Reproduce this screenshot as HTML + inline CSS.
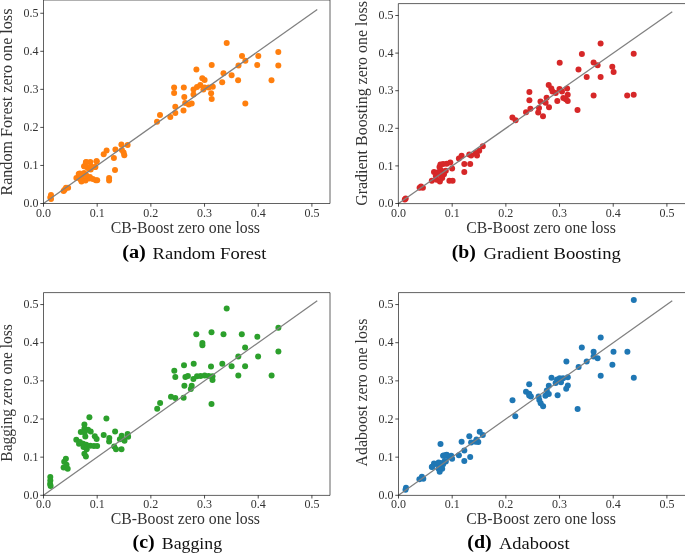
<!DOCTYPE html><html><head><meta charset="utf-8"><style>html,body{margin:0;padding:0;background:#fff;overflow:hidden;}svg{display:block;will-change:transform;}text{font-family:"Liberation Serif",serif;}</style></head><body>
<svg width="685" height="553" viewBox="0 0 685 553">
<rect width="685" height="553" fill="#fff"/>
<circle cx="51.0" cy="195.0" r="3" fill="#ff7f0e"/>
<circle cx="50.3" cy="197.5" r="3" fill="#ff7f0e"/>
<circle cx="51.0" cy="199.0" r="3" fill="#ff7f0e"/>
<circle cx="63.6" cy="191.1" r="3" fill="#ff7f0e"/>
<circle cx="64.6" cy="189.8" r="3" fill="#ff7f0e"/>
<circle cx="66.0" cy="187.7" r="3" fill="#ff7f0e"/>
<circle cx="68.1" cy="187.7" r="3" fill="#ff7f0e"/>
<circle cx="85.9" cy="162.3" r="3" fill="#ff7f0e"/>
<circle cx="90.3" cy="161.9" r="3" fill="#ff7f0e"/>
<circle cx="96.5" cy="161.2" r="3" fill="#ff7f0e"/>
<circle cx="84.1" cy="166.3" r="3" fill="#ff7f0e"/>
<circle cx="87.4" cy="167.4" r="3" fill="#ff7f0e"/>
<circle cx="90.7" cy="169.6" r="3" fill="#ff7f0e"/>
<circle cx="95" cy="167" r="3" fill="#ff7f0e"/>
<circle cx="79.7" cy="173.6" r="3" fill="#ff7f0e"/>
<circle cx="84.1" cy="172.9" r="3" fill="#ff7f0e"/>
<circle cx="76.4" cy="178" r="3" fill="#ff7f0e"/>
<circle cx="78.7" cy="173.9" r="3" fill="#ff7f0e"/>
<circle cx="81.9" cy="180.2" r="3" fill="#ff7f0e"/>
<circle cx="85.5" cy="180.5" r="3" fill="#ff7f0e"/>
<circle cx="89.2" cy="178.4" r="3" fill="#ff7f0e"/>
<circle cx="95.8" cy="180.2" r="3" fill="#ff7f0e"/>
<circle cx="97.2" cy="180.2" r="3" fill="#ff7f0e"/>
<circle cx="80.8" cy="179.8" r="3" fill="#ff7f0e"/>
<circle cx="81.5" cy="181.5" r="3" fill="#ff7f0e"/>
<circle cx="86.3" cy="162.1" r="3" fill="#ff7f0e"/>
<circle cx="84.5" cy="166.2" r="3" fill="#ff7f0e"/>
<circle cx="89" cy="168.9" r="3" fill="#ff7f0e"/>
<circle cx="89.9" cy="177" r="3" fill="#ff7f0e"/>
<circle cx="103.7" cy="154.3" r="3" fill="#ff7f0e"/>
<circle cx="106.6" cy="150.4" r="3" fill="#ff7f0e"/>
<circle cx="109.1" cy="177.9" r="3" fill="#ff7f0e"/>
<circle cx="109.1" cy="180.6" r="3" fill="#ff7f0e"/>
<circle cx="115.0" cy="170.0" r="3" fill="#ff7f0e"/>
<circle cx="113.9" cy="158.1" r="3" fill="#ff7f0e"/>
<circle cx="115.4" cy="149.4" r="3" fill="#ff7f0e"/>
<circle cx="121.4" cy="144.5" r="3" fill="#ff7f0e"/>
<circle cx="127.6" cy="145.0" r="3" fill="#ff7f0e"/>
<circle cx="121.9" cy="149.9" r="3" fill="#ff7f0e"/>
<circle cx="123.6" cy="152.6" r="3" fill="#ff7f0e"/>
<circle cx="124.3" cy="155.3" r="3" fill="#ff7f0e"/>
<circle cx="96.7" cy="161.2" r="3" fill="#ff7f0e"/>
<circle cx="95.4" cy="167.1" r="3" fill="#ff7f0e"/>
<circle cx="157.0" cy="121.7" r="3" fill="#ff7f0e"/>
<circle cx="160.0" cy="115.0" r="3" fill="#ff7f0e"/>
<circle cx="170.3" cy="117.0" r="3" fill="#ff7f0e"/>
<circle cx="175.3" cy="106.7" r="3" fill="#ff7f0e"/>
<circle cx="175.3" cy="113.1" r="3" fill="#ff7f0e"/>
<circle cx="183.5" cy="110.5" r="3" fill="#ff7f0e"/>
<circle cx="185.2" cy="102.9" r="3" fill="#ff7f0e"/>
<circle cx="188.8" cy="104.4" r="3" fill="#ff7f0e"/>
<circle cx="191.7" cy="103.5" r="3" fill="#ff7f0e"/>
<circle cx="174.1" cy="87.6" r="3" fill="#ff7f0e"/>
<circle cx="174.1" cy="93.1" r="3" fill="#ff7f0e"/>
<circle cx="183.8" cy="87.6" r="3" fill="#ff7f0e"/>
<circle cx="184.3" cy="97.0" r="3" fill="#ff7f0e"/>
<circle cx="193.5" cy="89.4" r="3" fill="#ff7f0e"/>
<circle cx="197.0" cy="87.0" r="3" fill="#ff7f0e"/>
<circle cx="200.3" cy="84.9" r="3" fill="#ff7f0e"/>
<circle cx="193.5" cy="94.6" r="3" fill="#ff7f0e"/>
<circle cx="203.4" cy="89.4" r="3" fill="#ff7f0e"/>
<circle cx="204.6" cy="87.6" r="3" fill="#ff7f0e"/>
<circle cx="208.7" cy="87.6" r="3" fill="#ff7f0e"/>
<circle cx="212.8" cy="86.8" r="3" fill="#ff7f0e"/>
<circle cx="211.1" cy="93.2" r="3" fill="#ff7f0e"/>
<circle cx="211.7" cy="99.1" r="3" fill="#ff7f0e"/>
<circle cx="202.3" cy="78.2" r="3" fill="#ff7f0e"/>
<circle cx="204.6" cy="80.0" r="3" fill="#ff7f0e"/>
<circle cx="196.4" cy="69.4" r="3" fill="#ff7f0e"/>
<circle cx="211.7" cy="64.9" r="3" fill="#ff7f0e"/>
<circle cx="226.7" cy="43.1" r="3" fill="#ff7f0e"/>
<circle cx="242.0" cy="56.1" r="3" fill="#ff7f0e"/>
<circle cx="245.4" cy="60.7" r="3" fill="#ff7f0e"/>
<circle cx="258.3" cy="56.1" r="3" fill="#ff7f0e"/>
<circle cx="278.3" cy="51.9" r="3" fill="#ff7f0e"/>
<circle cx="278.3" cy="65.5" r="3" fill="#ff7f0e"/>
<circle cx="257.2" cy="65.0" r="3" fill="#ff7f0e"/>
<circle cx="238.5" cy="65.5" r="3" fill="#ff7f0e"/>
<circle cx="223.5" cy="73.3" r="3" fill="#ff7f0e"/>
<circle cx="231.6" cy="75.3" r="3" fill="#ff7f0e"/>
<circle cx="238.1" cy="80.2" r="3" fill="#ff7f0e"/>
<circle cx="271.5" cy="80.2" r="3" fill="#ff7f0e"/>
<circle cx="222.2" cy="82.3" r="3" fill="#ff7f0e"/>
<circle cx="245.3" cy="103.4" r="3" fill="#ff7f0e"/>
<circle cx="92.8" cy="179.1" r="3" fill="#ff7f0e"/>
<circle cx="81.9" cy="176.2" r="3" fill="#ff7f0e"/>
<circle cx="90.8" cy="166.3" r="3" fill="#ff7f0e"/>
<circle cx="86.4" cy="175.6" r="3" fill="#ff7f0e"/>
<line x1="43.5" y1="203.5" x2="317.27" y2="9.44" stroke="#808080" stroke-width="1.3"/>
<path d="M43.5 0.0 V203.5 H330.0 V0.0 Z" fill="none" stroke="#000" stroke-width="0.62"/>
<line x1="43.50" y1="203.5" x2="43.50" y2="206.7" stroke="#000" stroke-width="0.7"/>
<line x1="40.3" y1="203.50" x2="43.5" y2="203.50" stroke="#000" stroke-width="0.7"/>
<text x="43.50" y="216.60" font-size="12" text-anchor="middle" fill="#333">0.0</text>
<text x="38.40" y="207.10" font-size="12" text-anchor="end" fill="#333">0.0</text>
<line x1="97.18" y1="203.5" x2="97.18" y2="206.7" stroke="#000" stroke-width="0.7"/>
<line x1="40.3" y1="165.45" x2="43.5" y2="165.45" stroke="#000" stroke-width="0.7"/>
<text x="97.18" y="216.60" font-size="12" text-anchor="middle" fill="#333">0.1</text>
<text x="38.40" y="169.05" font-size="12" text-anchor="end" fill="#333">0.1</text>
<line x1="150.86" y1="203.5" x2="150.86" y2="206.7" stroke="#000" stroke-width="0.7"/>
<line x1="40.3" y1="127.40" x2="43.5" y2="127.40" stroke="#000" stroke-width="0.7"/>
<text x="150.86" y="216.60" font-size="12" text-anchor="middle" fill="#333">0.2</text>
<text x="38.40" y="131.00" font-size="12" text-anchor="end" fill="#333">0.2</text>
<line x1="204.54" y1="203.5" x2="204.54" y2="206.7" stroke="#000" stroke-width="0.7"/>
<line x1="40.3" y1="89.35" x2="43.5" y2="89.35" stroke="#000" stroke-width="0.7"/>
<text x="204.54" y="216.60" font-size="12" text-anchor="middle" fill="#333">0.3</text>
<text x="38.40" y="92.95" font-size="12" text-anchor="end" fill="#333">0.3</text>
<line x1="258.22" y1="203.5" x2="258.22" y2="206.7" stroke="#000" stroke-width="0.7"/>
<line x1="40.3" y1="51.30" x2="43.5" y2="51.30" stroke="#000" stroke-width="0.7"/>
<text x="258.22" y="216.60" font-size="12" text-anchor="middle" fill="#333">0.4</text>
<text x="38.40" y="54.90" font-size="12" text-anchor="end" fill="#333">0.4</text>
<line x1="311.90" y1="203.5" x2="311.90" y2="206.7" stroke="#000" stroke-width="0.7"/>
<line x1="40.3" y1="13.25" x2="43.5" y2="13.25" stroke="#000" stroke-width="0.7"/>
<text x="311.90" y="216.60" font-size="12" text-anchor="middle" fill="#333">0.5</text>
<text x="38.40" y="16.85" font-size="12" text-anchor="end" fill="#333">0.5</text>
<text x="110.8" y="233.2" font-size="16" textLength="149.2" lengthAdjust="spacingAndGlyphs" fill="#333">CB-Boost zero one loss</text>
<text transform="translate(12.00,102.1) rotate(-90)" x="0" y="0" font-size="16" text-anchor="middle" textLength="187" lengthAdjust="spacingAndGlyphs" fill="#333">Random Forest zero one loss</text>
<text x="122.20" y="258.0" font-size="18" font-weight="bold" textLength="23.70" lengthAdjust="spacingAndGlyphs" fill="#000">(a)</text>
<text x="152.50" y="259.0" font-size="17" textLength="114.00" lengthAdjust="spacingAndGlyphs" fill="#111">Random Forest</text>
<circle cx="405.7" cy="198.4" r="3" fill="#d62728"/>
<circle cx="404.8" cy="199.5" r="3" fill="#d62728"/>
<circle cx="419.6" cy="187.8" r="3" fill="#d62728"/>
<circle cx="422.9" cy="187.8" r="3" fill="#d62728"/>
<circle cx="421" cy="186.4" r="3" fill="#d62728"/>
<circle cx="431.8" cy="180.7" r="3" fill="#d62728"/>
<circle cx="440.4" cy="164.4" r="3" fill="#d62728"/>
<circle cx="443.1" cy="163.9" r="3" fill="#d62728"/>
<circle cx="446.7" cy="163.7" r="3" fill="#d62728"/>
<circle cx="439.5" cy="167.1" r="3" fill="#d62728"/>
<circle cx="440.4" cy="169.8" r="3" fill="#d62728"/>
<circle cx="434" cy="172.1" r="3" fill="#d62728"/>
<circle cx="437.6" cy="172.5" r="3" fill="#d62728"/>
<circle cx="443.1" cy="171.6" r="3" fill="#d62728"/>
<circle cx="445.8" cy="170.7" r="3" fill="#d62728"/>
<circle cx="435.8" cy="176.1" r="3" fill="#d62728"/>
<circle cx="441.3" cy="176.1" r="3" fill="#d62728"/>
<circle cx="444" cy="174.3" r="3" fill="#d62728"/>
<circle cx="436.7" cy="179.7" r="3" fill="#d62728"/>
<circle cx="439.9" cy="181.6" r="3" fill="#d62728"/>
<circle cx="442.2" cy="177.9" r="3" fill="#d62728"/>
<circle cx="449.4" cy="180.7" r="3" fill="#d62728"/>
<circle cx="452.6" cy="180.7" r="3" fill="#d62728"/>
<circle cx="464.3" cy="172.1" r="3" fill="#d62728"/>
<circle cx="464.3" cy="163.9" r="3" fill="#d62728"/>
<circle cx="470.2" cy="163.9" r="3" fill="#d62728"/>
<circle cx="458.9" cy="158.5" r="3" fill="#d62728"/>
<circle cx="461.6" cy="155.8" r="3" fill="#d62728"/>
<circle cx="469.3" cy="154.5" r="3" fill="#d62728"/>
<circle cx="471.1" cy="155.4" r="3" fill="#d62728"/>
<circle cx="477" cy="155.4" r="3" fill="#d62728"/>
<circle cx="479.2" cy="150.8" r="3" fill="#d62728"/>
<circle cx="482.8" cy="146.3" r="3" fill="#d62728"/>
<circle cx="475.6" cy="153.1" r="3" fill="#d62728"/>
<circle cx="450.3" cy="162.6" r="3" fill="#d62728"/>
<circle cx="452.1" cy="168.5" r="3" fill="#d62728"/>
<circle cx="512.4" cy="117.6" r="3" fill="#d62728"/>
<circle cx="515.6" cy="120.3" r="3" fill="#d62728"/>
<circle cx="559.7" cy="62.8" r="3" fill="#d62728"/>
<circle cx="578.5" cy="69.5" r="3" fill="#d62728"/>
<circle cx="548.7" cy="85.1" r="3" fill="#d62728"/>
<circle cx="551.3" cy="88.5" r="3" fill="#d62728"/>
<circle cx="552.5" cy="91.6" r="3" fill="#d62728"/>
<circle cx="555.7" cy="92.9" r="3" fill="#d62728"/>
<circle cx="559.5" cy="89.1" r="3" fill="#d62728"/>
<circle cx="562" cy="91.6" r="3" fill="#d62728"/>
<circle cx="567.1" cy="88.5" r="3" fill="#d62728"/>
<circle cx="567.7" cy="94.8" r="3" fill="#d62728"/>
<circle cx="563.3" cy="98" r="3" fill="#d62728"/>
<circle cx="565.8" cy="99.2" r="3" fill="#d62728"/>
<circle cx="567.7" cy="101.1" r="3" fill="#d62728"/>
<circle cx="557.3" cy="101.1" r="3" fill="#d62728"/>
<circle cx="529.4" cy="92" r="3" fill="#d62728"/>
<circle cx="529.4" cy="100.3" r="3" fill="#d62728"/>
<circle cx="546.6" cy="97.7" r="3" fill="#d62728"/>
<circle cx="540.5" cy="101.5" r="3" fill="#d62728"/>
<circle cx="545.6" cy="102.8" r="3" fill="#d62728"/>
<circle cx="549" cy="107.2" r="3" fill="#d62728"/>
<circle cx="530.4" cy="108.7" r="3" fill="#d62728"/>
<circle cx="526" cy="112.2" r="3" fill="#d62728"/>
<circle cx="539" cy="108.1" r="3" fill="#d62728"/>
<circle cx="538.2" cy="112.5" r="3" fill="#d62728"/>
<circle cx="543" cy="116.3" r="3" fill="#d62728"/>
<circle cx="577.5" cy="110" r="3" fill="#d62728"/>
<circle cx="600.6" cy="43.6" r="3" fill="#d62728"/>
<circle cx="581.9" cy="54.1" r="3" fill="#d62728"/>
<circle cx="593.6" cy="62.6" r="3" fill="#d62728"/>
<circle cx="597.6" cy="65.2" r="3" fill="#d62728"/>
<circle cx="612.3" cy="66.8" r="3" fill="#d62728"/>
<circle cx="613.6" cy="72" r="3" fill="#d62728"/>
<circle cx="586.7" cy="76.9" r="3" fill="#d62728"/>
<circle cx="600.6" cy="76.9" r="3" fill="#d62728"/>
<circle cx="633.7" cy="53.7" r="3" fill="#d62728"/>
<circle cx="593.6" cy="95.6" r="3" fill="#d62728"/>
<circle cx="627.2" cy="95.6" r="3" fill="#d62728"/>
<circle cx="633.7" cy="94.8" r="3" fill="#d62728"/>
<line x1="398.5" y1="203.5" x2="672.27" y2="11.74" stroke="#808080" stroke-width="1.3"/>
<path d="M398.35 3.6 V203.6 H685.5 V3.6 Z" fill="none" stroke="#000" stroke-width="0.62"/>
<line x1="398.50" y1="203.5" x2="398.50" y2="206.7" stroke="#000" stroke-width="0.7"/>
<line x1="395.3" y1="203.50" x2="398.5" y2="203.50" stroke="#000" stroke-width="0.7"/>
<text x="398.50" y="216.60" font-size="12" text-anchor="middle" fill="#333">0.0</text>
<text x="393.40" y="207.10" font-size="12" text-anchor="end" fill="#333">0.0</text>
<line x1="452.18" y1="203.5" x2="452.18" y2="206.7" stroke="#000" stroke-width="0.7"/>
<line x1="395.3" y1="165.90" x2="398.5" y2="165.90" stroke="#000" stroke-width="0.7"/>
<text x="452.18" y="216.60" font-size="12" text-anchor="middle" fill="#333">0.1</text>
<text x="393.40" y="169.50" font-size="12" text-anchor="end" fill="#333">0.1</text>
<line x1="505.86" y1="203.5" x2="505.86" y2="206.7" stroke="#000" stroke-width="0.7"/>
<line x1="395.3" y1="128.30" x2="398.5" y2="128.30" stroke="#000" stroke-width="0.7"/>
<text x="505.86" y="216.60" font-size="12" text-anchor="middle" fill="#333">0.2</text>
<text x="393.40" y="131.90" font-size="12" text-anchor="end" fill="#333">0.2</text>
<line x1="559.54" y1="203.5" x2="559.54" y2="206.7" stroke="#000" stroke-width="0.7"/>
<line x1="395.3" y1="90.70" x2="398.5" y2="90.70" stroke="#000" stroke-width="0.7"/>
<text x="559.54" y="216.60" font-size="12" text-anchor="middle" fill="#333">0.3</text>
<text x="393.40" y="94.30" font-size="12" text-anchor="end" fill="#333">0.3</text>
<line x1="613.22" y1="203.5" x2="613.22" y2="206.7" stroke="#000" stroke-width="0.7"/>
<line x1="395.3" y1="53.10" x2="398.5" y2="53.10" stroke="#000" stroke-width="0.7"/>
<text x="613.22" y="216.60" font-size="12" text-anchor="middle" fill="#333">0.4</text>
<text x="393.40" y="56.70" font-size="12" text-anchor="end" fill="#333">0.4</text>
<line x1="666.90" y1="203.5" x2="666.90" y2="206.7" stroke="#000" stroke-width="0.7"/>
<line x1="395.3" y1="15.50" x2="398.5" y2="15.50" stroke="#000" stroke-width="0.7"/>
<text x="666.90" y="216.60" font-size="12" text-anchor="middle" fill="#333">0.5</text>
<text x="393.40" y="19.10" font-size="12" text-anchor="end" fill="#333">0.5</text>
<text x="466.3" y="233.0" font-size="16" textLength="149.5" lengthAdjust="spacingAndGlyphs" fill="#333">CB-Boost zero one loss</text>
<text transform="translate(367.00,103.45) rotate(-90)" x="0" y="0" font-size="16" text-anchor="middle" textLength="204.7" lengthAdjust="spacingAndGlyphs" fill="#333">Gradient Boosting zero one loss</text>
<text x="451.70" y="257.7" font-size="18" font-weight="bold" textLength="24.10" lengthAdjust="spacingAndGlyphs" fill="#000">(b)</text>
<text x="483.60" y="258.7" font-size="17" textLength="137.30" lengthAdjust="spacingAndGlyphs" fill="#111">Gradient Boosting</text>
<circle cx="50.3" cy="477.1" r="3" fill="#2ca02c"/>
<circle cx="50.3" cy="480.6" r="3" fill="#2ca02c"/>
<circle cx="50.1" cy="484.1" r="3" fill="#2ca02c"/>
<circle cx="50.6" cy="485.9" r="3" fill="#2ca02c"/>
<circle cx="65.9" cy="458.8" r="3" fill="#2ca02c"/>
<circle cx="64.2" cy="461.8" r="3" fill="#2ca02c"/>
<circle cx="66.5" cy="464.7" r="3" fill="#2ca02c"/>
<circle cx="63.6" cy="467.6" r="3" fill="#2ca02c"/>
<circle cx="67.7" cy="468.8" r="3" fill="#2ca02c"/>
<circle cx="84.4" cy="453.8" r="3" fill="#2ca02c"/>
<circle cx="85.9" cy="456.5" r="3" fill="#2ca02c"/>
<circle cx="89.4" cy="417.2" r="3" fill="#2ca02c"/>
<circle cx="106.4" cy="418.4" r="3" fill="#2ca02c"/>
<circle cx="84.4" cy="424.4" r="3" fill="#2ca02c"/>
<circle cx="84.4" cy="428.5" r="3" fill="#2ca02c"/>
<circle cx="88" cy="429.8" r="3" fill="#2ca02c"/>
<circle cx="90.7" cy="431.6" r="3" fill="#2ca02c"/>
<circle cx="80.8" cy="432.1" r="3" fill="#2ca02c"/>
<circle cx="85.3" cy="436.6" r="3" fill="#2ca02c"/>
<circle cx="94.8" cy="436.2" r="3" fill="#2ca02c"/>
<circle cx="96.6" cy="438.9" r="3" fill="#2ca02c"/>
<circle cx="76.3" cy="439.8" r="3" fill="#2ca02c"/>
<circle cx="79.9" cy="442" r="3" fill="#2ca02c"/>
<circle cx="79" cy="443.8" r="3" fill="#2ca02c"/>
<circle cx="83.1" cy="443.8" r="3" fill="#2ca02c"/>
<circle cx="86.2" cy="444.7" r="3" fill="#2ca02c"/>
<circle cx="83.5" cy="447" r="3" fill="#2ca02c"/>
<circle cx="86.7" cy="449.3" r="3" fill="#2ca02c"/>
<circle cx="90.3" cy="445.7" r="3" fill="#2ca02c"/>
<circle cx="93.9" cy="446.1" r="3" fill="#2ca02c"/>
<circle cx="97.1" cy="446.1" r="3" fill="#2ca02c"/>
<circle cx="103.7" cy="435.1" r="3" fill="#2ca02c"/>
<circle cx="109.3" cy="438" r="3" fill="#2ca02c"/>
<circle cx="109.1" cy="441.6" r="3" fill="#2ca02c"/>
<circle cx="115.1" cy="431.4" r="3" fill="#2ca02c"/>
<circle cx="121.7" cy="435.8" r="3" fill="#2ca02c"/>
<circle cx="119.9" cy="439.2" r="3" fill="#2ca02c"/>
<circle cx="124.5" cy="440.7" r="3" fill="#2ca02c"/>
<circle cx="127.6" cy="434" r="3" fill="#2ca02c"/>
<circle cx="128.1" cy="436.7" r="3" fill="#2ca02c"/>
<circle cx="114.2" cy="446.6" r="3" fill="#2ca02c"/>
<circle cx="116" cy="449.3" r="3" fill="#2ca02c"/>
<circle cx="121.5" cy="449.3" r="3" fill="#2ca02c"/>
<circle cx="196.3" cy="334.3" r="3" fill="#2ca02c"/>
<circle cx="211.5" cy="332.2" r="3" fill="#2ca02c"/>
<circle cx="223.5" cy="334.3" r="3" fill="#2ca02c"/>
<circle cx="202.4" cy="343" r="3" fill="#2ca02c"/>
<circle cx="202.4" cy="345.2" r="3" fill="#2ca02c"/>
<circle cx="184" cy="365.2" r="3" fill="#2ca02c"/>
<circle cx="193.7" cy="363.7" r="3" fill="#2ca02c"/>
<circle cx="211" cy="366.5" r="3" fill="#2ca02c"/>
<circle cx="222.3" cy="363.7" r="3" fill="#2ca02c"/>
<circle cx="174.3" cy="370.8" r="3" fill="#2ca02c"/>
<circle cx="175.3" cy="377" r="3" fill="#2ca02c"/>
<circle cx="185.4" cy="377" r="3" fill="#2ca02c"/>
<circle cx="187.9" cy="376" r="3" fill="#2ca02c"/>
<circle cx="193.4" cy="378.9" r="3" fill="#2ca02c"/>
<circle cx="197" cy="376.3" r="3" fill="#2ca02c"/>
<circle cx="200.6" cy="376" r="3" fill="#2ca02c"/>
<circle cx="204.7" cy="375.6" r="3" fill="#2ca02c"/>
<circle cx="208.6" cy="376" r="3" fill="#2ca02c"/>
<circle cx="212.5" cy="376.3" r="3" fill="#2ca02c"/>
<circle cx="212.5" cy="379.9" r="3" fill="#2ca02c"/>
<circle cx="184.4" cy="385.7" r="3" fill="#2ca02c"/>
<circle cx="191.7" cy="385.7" r="3" fill="#2ca02c"/>
<circle cx="190.8" cy="389" r="3" fill="#2ca02c"/>
<circle cx="171" cy="396.8" r="3" fill="#2ca02c"/>
<circle cx="175.3" cy="398" r="3" fill="#2ca02c"/>
<circle cx="183.6" cy="397.7" r="3" fill="#2ca02c"/>
<circle cx="160.1" cy="403.1" r="3" fill="#2ca02c"/>
<circle cx="157.2" cy="408.8" r="3" fill="#2ca02c"/>
<circle cx="211.5" cy="404.1" r="3" fill="#2ca02c"/>
<circle cx="226.7" cy="308.5" r="3" fill="#2ca02c"/>
<circle cx="241.8" cy="334.3" r="3" fill="#2ca02c"/>
<circle cx="257.3" cy="336.8" r="3" fill="#2ca02c"/>
<circle cx="278.4" cy="327.8" r="3" fill="#2ca02c"/>
<circle cx="245.1" cy="347.4" r="3" fill="#2ca02c"/>
<circle cx="238.3" cy="356.5" r="3" fill="#2ca02c"/>
<circle cx="258.1" cy="356.5" r="3" fill="#2ca02c"/>
<circle cx="278.4" cy="351.6" r="3" fill="#2ca02c"/>
<circle cx="231.6" cy="366.2" r="3" fill="#2ca02c"/>
<circle cx="245.1" cy="366.2" r="3" fill="#2ca02c"/>
<circle cx="238.3" cy="375.5" r="3" fill="#2ca02c"/>
<circle cx="271.6" cy="375.5" r="3" fill="#2ca02c"/>
<circle cx="84.6" cy="432.5" r="3" fill="#2ca02c"/>
<line x1="43.5" y1="495.3" x2="317.27" y2="300.74" stroke="#808080" stroke-width="1.3"/>
<path d="M43.5 292.6 V495.4 H330.0 V292.6 Z" fill="none" stroke="#000" stroke-width="0.62"/>
<line x1="43.50" y1="495.3" x2="43.50" y2="498.5" stroke="#000" stroke-width="0.7"/>
<line x1="40.3" y1="495.30" x2="43.5" y2="495.30" stroke="#000" stroke-width="0.7"/>
<text x="43.50" y="508.40" font-size="12" text-anchor="middle" fill="#333">0.0</text>
<text x="38.40" y="498.90" font-size="12" text-anchor="end" fill="#333">0.0</text>
<line x1="97.18" y1="495.3" x2="97.18" y2="498.5" stroke="#000" stroke-width="0.7"/>
<line x1="40.3" y1="457.15" x2="43.5" y2="457.15" stroke="#000" stroke-width="0.7"/>
<text x="97.18" y="508.40" font-size="12" text-anchor="middle" fill="#333">0.1</text>
<text x="38.40" y="460.75" font-size="12" text-anchor="end" fill="#333">0.1</text>
<line x1="150.86" y1="495.3" x2="150.86" y2="498.5" stroke="#000" stroke-width="0.7"/>
<line x1="40.3" y1="419.00" x2="43.5" y2="419.00" stroke="#000" stroke-width="0.7"/>
<text x="150.86" y="508.40" font-size="12" text-anchor="middle" fill="#333">0.2</text>
<text x="38.40" y="422.60" font-size="12" text-anchor="end" fill="#333">0.2</text>
<line x1="204.54" y1="495.3" x2="204.54" y2="498.5" stroke="#000" stroke-width="0.7"/>
<line x1="40.3" y1="380.85" x2="43.5" y2="380.85" stroke="#000" stroke-width="0.7"/>
<text x="204.54" y="508.40" font-size="12" text-anchor="middle" fill="#333">0.3</text>
<text x="38.40" y="384.45" font-size="12" text-anchor="end" fill="#333">0.3</text>
<line x1="258.22" y1="495.3" x2="258.22" y2="498.5" stroke="#000" stroke-width="0.7"/>
<line x1="40.3" y1="342.70" x2="43.5" y2="342.70" stroke="#000" stroke-width="0.7"/>
<text x="258.22" y="508.40" font-size="12" text-anchor="middle" fill="#333">0.4</text>
<text x="38.40" y="346.30" font-size="12" text-anchor="end" fill="#333">0.4</text>
<line x1="311.90" y1="495.3" x2="311.90" y2="498.5" stroke="#000" stroke-width="0.7"/>
<line x1="40.3" y1="304.55" x2="43.5" y2="304.55" stroke="#000" stroke-width="0.7"/>
<text x="311.90" y="508.40" font-size="12" text-anchor="middle" fill="#333">0.5</text>
<text x="38.40" y="308.15" font-size="12" text-anchor="end" fill="#333">0.5</text>
<text x="110.8" y="524.2" font-size="16" textLength="149.2" lengthAdjust="spacingAndGlyphs" fill="#333">CB-Boost zero one loss</text>
<text transform="translate(12.00,392.9) rotate(-90)" x="0" y="0" font-size="16" text-anchor="middle" textLength="137.6" lengthAdjust="spacingAndGlyphs" fill="#333">Bagging zero one loss</text>
<text x="132.50" y="547.7" font-size="18" font-weight="bold" textLength="22.10" lengthAdjust="spacingAndGlyphs" fill="#000">(c)</text>
<text x="161.80" y="548.7" font-size="17" textLength="60.30" lengthAdjust="spacingAndGlyphs" fill="#111">Bagging</text>
<circle cx="406" cy="487.7" r="3" fill="#1f77b4"/>
<circle cx="405.5" cy="489.7" r="3" fill="#1f77b4"/>
<circle cx="419.4" cy="479.3" r="3" fill="#1f77b4"/>
<circle cx="421.9" cy="476.8" r="3" fill="#1f77b4"/>
<circle cx="423.3" cy="478.8" r="3" fill="#1f77b4"/>
<circle cx="440.5" cy="443.9" r="3" fill="#1f77b4"/>
<circle cx="432.3" cy="466.8" r="3" fill="#1f77b4"/>
<circle cx="434.8" cy="463.9" r="3" fill="#1f77b4"/>
<circle cx="437.8" cy="463.9" r="3" fill="#1f77b4"/>
<circle cx="440.7" cy="462.9" r="3" fill="#1f77b4"/>
<circle cx="439.7" cy="467.8" r="3" fill="#1f77b4"/>
<circle cx="442.2" cy="468.8" r="3" fill="#1f77b4"/>
<circle cx="439.7" cy="471.8" r="3" fill="#1f77b4"/>
<circle cx="444.7" cy="460.9" r="3" fill="#1f77b4"/>
<circle cx="434" cy="463.4" r="3" fill="#1f77b4"/>
<circle cx="438.6" cy="462.5" r="3" fill="#1f77b4"/>
<circle cx="431.8" cy="467" r="3" fill="#1f77b4"/>
<circle cx="445.8" cy="461.6" r="3" fill="#1f77b4"/>
<circle cx="443.1" cy="464.3" r="3" fill="#1f77b4"/>
<circle cx="440.4" cy="467" r="3" fill="#1f77b4"/>
<circle cx="438.6" cy="468.8" r="3" fill="#1f77b4"/>
<circle cx="443.1" cy="455.7" r="3" fill="#1f77b4"/>
<circle cx="446.7" cy="454.8" r="3" fill="#1f77b4"/>
<circle cx="451.2" cy="455.7" r="3" fill="#1f77b4"/>
<circle cx="452.1" cy="458.8" r="3" fill="#1f77b4"/>
<circle cx="448.9" cy="457" r="3" fill="#1f77b4"/>
<circle cx="443.7" cy="455.4" r="3" fill="#1f77b4"/>
<circle cx="446.2" cy="454.9" r="3" fill="#1f77b4"/>
<circle cx="461.6" cy="441.7" r="3" fill="#1f77b4"/>
<circle cx="469.3" cy="436.3" r="3" fill="#1f77b4"/>
<circle cx="479.7" cy="431.7" r="3" fill="#1f77b4"/>
<circle cx="482.8" cy="434.9" r="3" fill="#1f77b4"/>
<circle cx="471.1" cy="442.6" r="3" fill="#1f77b4"/>
<circle cx="476.5" cy="439.4" r="3" fill="#1f77b4"/>
<circle cx="478.3" cy="442.1" r="3" fill="#1f77b4"/>
<circle cx="475.6" cy="441.7" r="3" fill="#1f77b4"/>
<circle cx="464.3" cy="450.5" r="3" fill="#1f77b4"/>
<circle cx="458.9" cy="455.2" r="3" fill="#1f77b4"/>
<circle cx="470.2" cy="456.9" r="3" fill="#1f77b4"/>
<circle cx="464.3" cy="461.1" r="3" fill="#1f77b4"/>
<circle cx="566.4" cy="361.5" r="3" fill="#1f77b4"/>
<circle cx="578.6" cy="367" r="3" fill="#1f77b4"/>
<circle cx="551.5" cy="377.8" r="3" fill="#1f77b4"/>
<circle cx="557" cy="379.6" r="3" fill="#1f77b4"/>
<circle cx="559.7" cy="378.2" r="3" fill="#1f77b4"/>
<circle cx="563.1" cy="378.2" r="3" fill="#1f77b4"/>
<circle cx="567.8" cy="377.3" r="3" fill="#1f77b4"/>
<circle cx="555.6" cy="383" r="3" fill="#1f77b4"/>
<circle cx="561" cy="382.3" r="3" fill="#1f77b4"/>
<circle cx="567.8" cy="385.4" r="3" fill="#1f77b4"/>
<circle cx="566.2" cy="388.7" r="3" fill="#1f77b4"/>
<circle cx="548.8" cy="385.7" r="3" fill="#1f77b4"/>
<circle cx="546.8" cy="390.4" r="3" fill="#1f77b4"/>
<circle cx="548.8" cy="394.1" r="3" fill="#1f77b4"/>
<circle cx="545.4" cy="395.8" r="3" fill="#1f77b4"/>
<circle cx="557.6" cy="395.2" r="3" fill="#1f77b4"/>
<circle cx="529.2" cy="384.3" r="3" fill="#1f77b4"/>
<circle cx="526" cy="391.8" r="3" fill="#1f77b4"/>
<circle cx="529.2" cy="393.8" r="3" fill="#1f77b4"/>
<circle cx="530.9" cy="396.5" r="3" fill="#1f77b4"/>
<circle cx="538.6" cy="396.5" r="3" fill="#1f77b4"/>
<circle cx="539.3" cy="399.9" r="3" fill="#1f77b4"/>
<circle cx="540.7" cy="403.3" r="3" fill="#1f77b4"/>
<circle cx="543.1" cy="406.3" r="3" fill="#1f77b4"/>
<circle cx="512.5" cy="400.3" r="3" fill="#1f77b4"/>
<circle cx="515.3" cy="416.2" r="3" fill="#1f77b4"/>
<circle cx="577.6" cy="409" r="3" fill="#1f77b4"/>
<circle cx="633.8" cy="300" r="3" fill="#1f77b4"/>
<circle cx="600.7" cy="337.6" r="3" fill="#1f77b4"/>
<circle cx="581.8" cy="347.4" r="3" fill="#1f77b4"/>
<circle cx="593.6" cy="351.8" r="3" fill="#1f77b4"/>
<circle cx="593.6" cy="356.5" r="3" fill="#1f77b4"/>
<circle cx="597.6" cy="358.3" r="3" fill="#1f77b4"/>
<circle cx="613.5" cy="351.8" r="3" fill="#1f77b4"/>
<circle cx="627.4" cy="351.8" r="3" fill="#1f77b4"/>
<circle cx="586.7" cy="361.5" r="3" fill="#1f77b4"/>
<circle cx="612.4" cy="364.8" r="3" fill="#1f77b4"/>
<circle cx="600.7" cy="375.7" r="3" fill="#1f77b4"/>
<circle cx="633.8" cy="377.8" r="3" fill="#1f77b4"/>
<circle cx="529.2" cy="395.4" r="3" fill="#1f77b4"/>
<line x1="398.5" y1="495.3" x2="672.27" y2="300.74" stroke="#808080" stroke-width="1.3"/>
<path d="M398.5 292.6 V495.4 H685.5 V292.6 Z" fill="none" stroke="#000" stroke-width="0.62"/>
<line x1="398.50" y1="495.3" x2="398.50" y2="498.5" stroke="#000" stroke-width="0.7"/>
<line x1="395.3" y1="495.30" x2="398.5" y2="495.30" stroke="#000" stroke-width="0.7"/>
<text x="398.50" y="508.40" font-size="12" text-anchor="middle" fill="#333">0.0</text>
<text x="393.40" y="498.90" font-size="12" text-anchor="end" fill="#333">0.0</text>
<line x1="452.18" y1="495.3" x2="452.18" y2="498.5" stroke="#000" stroke-width="0.7"/>
<line x1="395.3" y1="457.15" x2="398.5" y2="457.15" stroke="#000" stroke-width="0.7"/>
<text x="452.18" y="508.40" font-size="12" text-anchor="middle" fill="#333">0.1</text>
<text x="393.40" y="460.75" font-size="12" text-anchor="end" fill="#333">0.1</text>
<line x1="505.86" y1="495.3" x2="505.86" y2="498.5" stroke="#000" stroke-width="0.7"/>
<line x1="395.3" y1="419.00" x2="398.5" y2="419.00" stroke="#000" stroke-width="0.7"/>
<text x="505.86" y="508.40" font-size="12" text-anchor="middle" fill="#333">0.2</text>
<text x="393.40" y="422.60" font-size="12" text-anchor="end" fill="#333">0.2</text>
<line x1="559.54" y1="495.3" x2="559.54" y2="498.5" stroke="#000" stroke-width="0.7"/>
<line x1="395.3" y1="380.85" x2="398.5" y2="380.85" stroke="#000" stroke-width="0.7"/>
<text x="559.54" y="508.40" font-size="12" text-anchor="middle" fill="#333">0.3</text>
<text x="393.40" y="384.45" font-size="12" text-anchor="end" fill="#333">0.3</text>
<line x1="613.22" y1="495.3" x2="613.22" y2="498.5" stroke="#000" stroke-width="0.7"/>
<line x1="395.3" y1="342.70" x2="398.5" y2="342.70" stroke="#000" stroke-width="0.7"/>
<text x="613.22" y="508.40" font-size="12" text-anchor="middle" fill="#333">0.4</text>
<text x="393.40" y="346.30" font-size="12" text-anchor="end" fill="#333">0.4</text>
<line x1="666.90" y1="495.3" x2="666.90" y2="498.5" stroke="#000" stroke-width="0.7"/>
<line x1="395.3" y1="304.55" x2="398.5" y2="304.55" stroke="#000" stroke-width="0.7"/>
<text x="666.90" y="508.40" font-size="12" text-anchor="middle" fill="#333">0.5</text>
<text x="393.40" y="308.15" font-size="12" text-anchor="end" fill="#333">0.5</text>
<text x="466.3" y="524.2" font-size="16" textLength="149.5" lengthAdjust="spacingAndGlyphs" fill="#333">CB-Boost zero one loss</text>
<text transform="translate(367.00,392.55) rotate(-90)" x="0" y="0" font-size="16" text-anchor="middle" textLength="147.7" lengthAdjust="spacingAndGlyphs" fill="#333">Adaboost zero one loss</text>
<text x="467.30" y="547.6" font-size="18" font-weight="bold" textLength="24.40" lengthAdjust="spacingAndGlyphs" fill="#000">(d)</text>
<text x="499.10" y="548.6" font-size="17" textLength="70.50" lengthAdjust="spacingAndGlyphs" fill="#111">Adaboost</text>
</svg></body></html>
